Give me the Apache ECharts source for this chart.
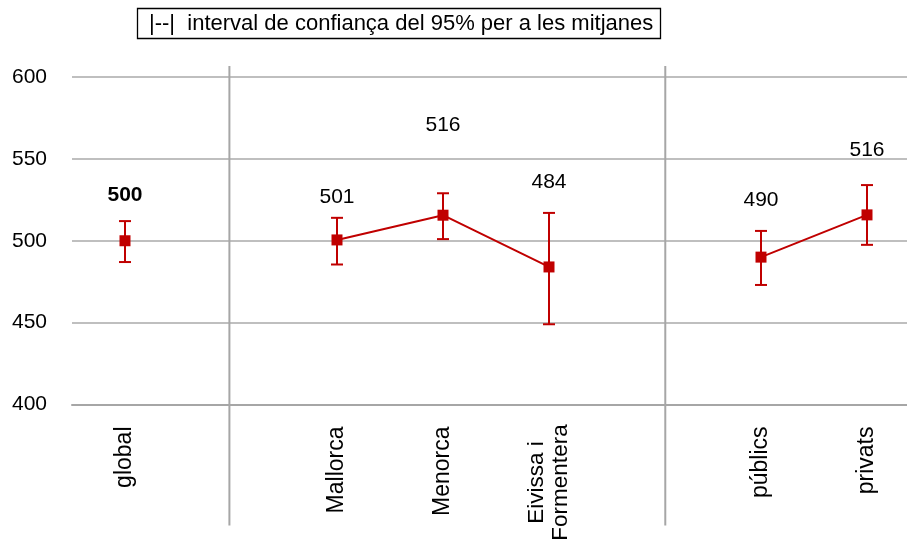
<!DOCTYPE html>
<html>
<head>
<meta charset="utf-8">
<script src="https://cdn.jsdelivr.net/npm/echarts@6/dist/echarts.min.js"></script>
<style>html,body{margin:0;padding:0;background:#fff}#c{width:907px;height:539px}</style>
</head>
<body>
<div id="c"></div>
<script>
// ---- data ----
const categories = ['global', '', 'Mallorca', 'Menorca', 'Eivissa i\nFormentera', '', 'públics', 'privats'];
const means      = [500, '-', 500.5, 515.6, 484, '-', 490, 515.8];
const ciLow      = [487, null, 485.5, 501, 449, null, 473, 497.5];
const ciHigh     = [512, null, 514, 529, 517, null, 506, 534];
const meanLabels = ['500', '', '501', '516', '484', '', '490', '516'];
const labelAt    = [528, null, 526.5, 570.5, 535.5, null, 524.5, 555];
const yTicks     = [400, 450, 500, 550, 600];
const separators = [0.985, 5.097];
const legendText = '|--|  interval de confiança del 95% per a les mitjanes';

const RED = '#C00000';
const FONT = '"Liberation Sans", Arial, sans-serif';

const chart = echarts.init(document.getElementById('c'), null, {renderer: 'canvas'});

const errData = [];
categories.forEach((c, i) => { if (ciLow[i] != null) errData.push([i, ciLow[i], ciHigh[i]]); });
const lblData = [];
categories.forEach((c, i) => { if (labelAt[i] != null) lblData.push({value: [i, labelAt[i]], name: meanLabels[i], bold: i === 0}); });

chart.setOption({
  animation: false,
  title: {
    text: legendText,
    left: 137, top: 8,
    padding: [5, 8, 4, 12],
    borderColor: '#000', borderWidth: 1.3,
    textStyle: {fontFamily: FONT, fontSize: 22, fontWeight: 'normal', color: '#000'}
  },
  grid: {left: 72, top: 77, height: 327.5, width: 848, containLabel: false, outerBoundsMode: 'none'},
  xAxis: [{
    type: 'category', data: categories, boundaryGap: true,
    axisLine: {lineStyle: {color: '#A6A6A6', width: 2}},
    axisTick: {show: false},
    axisLabel: {
      interval: 0, rotate: 90, margin: 22,
      fontFamily: FONT, fontSize: 23, color: '#000', lineHeight: 24,
      formatter: v => v.indexOf('\n') >= 0 ? v.split('\n').map(s => '{c|' + s + '}').join('\n') : v,
      rich: {c: {width: 112, align: 'center', fontFamily: FONT, fontSize: 22.5, color: '#000', lineHeight: 24}}
    },
    splitLine: {show: false}
  }, {
    type: 'value', min: -0.5, max: 7.5, show: false
  }],
  yAxis: {
    type: 'value', min: 400, max: 600, interval: 50,
    axisLine: {show: false}, axisTick: {show: false},
    axisLabel: {margin: 25, fontFamily: FONT, fontSize: 21, color: '#000',
      formatter: v => yTicks.indexOf(v) >= 0 ? String(v) : ''},
    splitLine: {lineStyle: {color: '#BFBFBF', width: 2}}
  },
  series: [{
    type: 'custom', xAxisIndex: 1, clip: false, silent: true,
    data: separators.map(s => [s]),
    renderItem: (params, api) => {
      const top = api.coord([api.value(0), 600]);
      const bot = api.coord([api.value(0), 400]);
      return {type: 'line', shape: {x1: top[0], y1: top[1] - 11, x2: bot[0], y2: bot[1] + 121},
        style: {stroke: '#A6A6A6', lineWidth: 2}};
    },
    z: 1
  }, {
    type: 'custom', clip: false, silent: true,
    data: errData,
    renderItem: (params, api) => {
      const lo = api.coord([api.value(0), api.value(1)]);
      const hi = api.coord([api.value(0), api.value(2)]);
      const w = 6;
      const st = {stroke: RED, lineWidth: 2};
      return {type: 'group', children: [
        {type: 'line', shape: {x1: lo[0], y1: lo[1], x2: hi[0], y2: hi[1]}, style: st},
        {type: 'line', shape: {x1: lo[0] - w, y1: lo[1], x2: lo[0] + w, y2: lo[1]}, style: st},
        {type: 'line', shape: {x1: hi[0] - w, y1: hi[1], x2: hi[0] + w, y2: hi[1]}, style: st}
      ]};
    },
    z: 3
  }, {
    type: 'line', data: means, connectNulls: false,
    symbol: 'rect', symbolSize: 11,
    lineStyle: {color: RED, width: 2},
    itemStyle: {color: RED},
    z: 4
  }, {
    type: 'scatter', data: lblData, symbolSize: 1, silent: true,
    itemStyle: {opacity: 0},
    label: {
      show: true, position: 'inside', opacity: 1,
      formatter: p => p.data.bold ? '{b|' + p.name + '}' : '{n|' + p.name + '}',
      fontFamily: FONT, fontSize: 21, color: '#000',
      rich: {
        b: {fontFamily: FONT, fontSize: 21, fontWeight: 'bold', color: '#000'},
        n: {fontFamily: FONT, fontSize: 21, color: '#000'}
      }
    },
    z: 5
  }]
});
</script>
</body>
</html>
